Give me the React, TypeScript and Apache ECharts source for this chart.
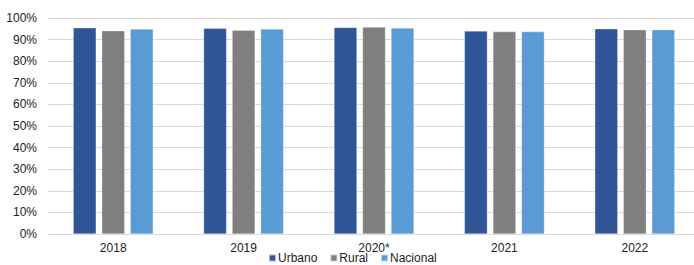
import React, { useEffect, useRef } from "react";
import * as echarts from "echarts";

const categories = ["2018", "2019", "2020*", "2021", "2022"];
const urbano = [95.5, 95.2, 95.6, 94.0, 95.0];
const rural = [94.1, 94.3, 95.8, 93.7, 94.6];
const nacional = [94.9, 94.9, 95.4, 93.7, 94.6];
const yTicks = [0, 10, 20, 30, 40, 50, 60, 70, 80, 90, 100];

export default function App() {
  const ref = useRef<HTMLDivElement>(null);
  useEffect(() => {
    const chart = echarts.init(ref.current!, undefined, { renderer: "svg" });
    const font = "'Liberation Sans', Arial, sans-serif";
    const barStyle = (color: string) => ({
      color,
      borderColor: "rgba(255,255,255,0.6)",
      borderWidth: 0.5,
    });
    chart.setOption({
      animation: false,
      textStyle: { fontFamily: font },
      grid: { left: 48, right: 0, top: 18, bottom: 31, containLabel: false },
      legend: {
        left: 268,
        top: 252,
        padding: 0,
        itemWidth: 7,
        itemHeight: 7,
        itemGap: 12,
        icon: "rect",
        textStyle: { fontFamily: font, fontSize: 12, lineHeight: 11, color: "#222", padding: [0, 0, 0, -3] },
        data: ["Urbano", "Rural", "Nacional"],
      },
      xAxis: {
        type: "category",
        data: categories,
        axisLine: { lineStyle: { color: "#d9d9d9" } },
        axisTick: { show: false },
        axisLabel: { fontFamily: font, fontSize: 12, lineHeight: 11, color: "#222", margin: 8 },
      },
      yAxis: {
        type: "value",
        min: yTicks[0],
        max: yTicks[yTicks.length - 1],
        interval: 10,
        axisLine: { show: false },
        axisTick: { show: false },
        splitLine: { lineStyle: { color: "#d9d9d9", width: 1 } },
        axisLabel: {
          fontFamily: font,
          fontSize: 12,
          color: "#222",
          margin: 11,
          formatter: (v: number) => `${v}%`,
        },
      },
      series: [
        { name: "Urbano", type: "bar", data: urbano, barWidth: 23, barGap: "24%", itemStyle: barStyle("#2F5597") },
        { name: "Rural", type: "bar", data: rural, barWidth: 23, barGap: "24%", itemStyle: barStyle("#7F7F7F") },
        { name: "Nacional", type: "bar", data: nacional, barWidth: 23, barGap: "24%", itemStyle: barStyle("#5B9BD5") },
      ],
    });
    return () => chart.dispose();
  }, []);
  return (
    <div style={{ position: "absolute", left: 0, top: 0, width: 694, height: 265, overflow: "hidden", background: "#fff" }}>
      <div ref={ref} style={{ width: 700, height: 265 }} />
    </div>
  );
}
